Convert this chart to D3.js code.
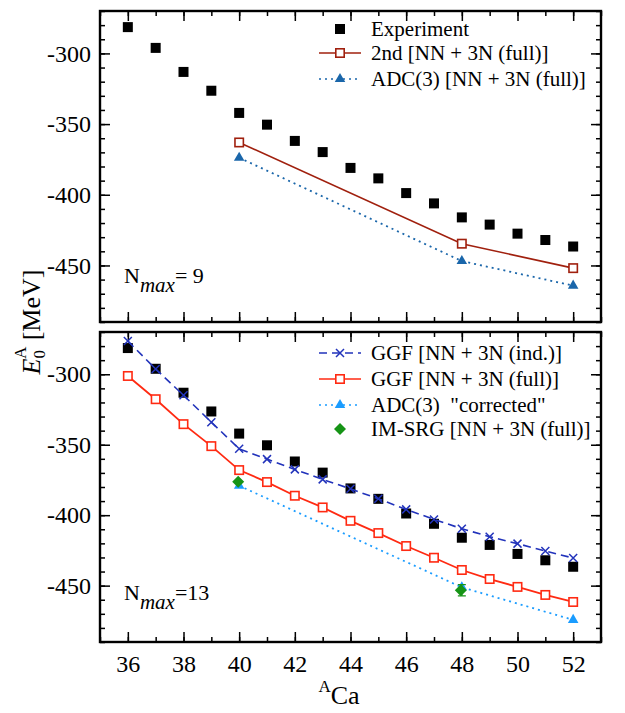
<!DOCTYPE html>
<html>
<head>
<meta charset="utf-8">
<script src="https://cdn.jsdelivr.net/npm/d3@7"></script>
<style>
  body { margin: 0; background: #fff; }
  svg { display: block; }
  svg text { font-family: "Liberation Serif", serif; }
</style>
</head>
<body>
<div id="chart"></div>
<script>
// mass numbers A of the calcium isotopes
var massNumbers = [36, 37, 38, 39, 40, 41, 42, 43, 44, 45, 46, 47, 48, 49, 50, 51, 52];

// experimental ground-state energies (MeV)
var experiment = [-281.4, -296.1, -313.1, -326.4, -342.1, -350.4, -361.9, -369.8, -381.0,
                  -388.4, -398.8, -406.1, -416.0, -421.1, -427.5, -432.0, -436.6];

// top panel, Nmax = 9
var secondA = [40, 48, 52];
var secondOrder = [-363.0, -434.6, -451.9];
var adc3A = [40, 48, 52];
var adc3Full = [-373.8, -446.9, -464.3];

// bottom panel, Nmax = 13
var ggfInduced = [-276.4, -296.3, -314.9, -334.0, -352.9, -360.2, -367.5, -374.6, -381.3,
                  -388.4, -395.9, -403.0, -409.6, -415.3, -420.2, -425.4, -430.4];
var ggfFull = [-301.2, -317.7, -335.4, -351.0, -368.0, -376.5, -386.2, -394.5, -404.0,
               -412.7, -421.9, -430.2, -438.9, -445.3, -450.9, -456.6, -461.6];
var adc3CorrA = [40, 48, 52];
var adc3Corrected = [-379.1, -451.2, -474.3];
var imsrgA = [40, 48];
var imsrg = [-376.3, -453.3];
var imsrgErr = [0, 4];

var xTicks = [36, 38, 40, 42, 44, 46, 48, 50, 52];
var yTicks = [-300, -350, -400, -450];

var W = 625, H = 713;
var left = 100, right = 601;
var panels = [
  { top: 11, bottom: 322, label: "= 9" },
  { top: 332, bottom: 642, label: "=13" }
];

var svg = d3.select("#chart").append("svg")
  .attr("width", W).attr("height", H);

var x = d3.scaleLinear().domain([35, 53]).range([left, right]);

var colors = {
  exp: "#000000",
  second: "#a0200e",
  adcTop: "#1a66aa",
  ggfInd: "#2233bb",
  ggfFull: "#ff2a12",
  adcCorr: "#1a9cff",
  imsrg: "#169416"
};

function zip(xs, ys) {
  return xs.map(function(a, i) { return { a: a, e: ys[i] }; });
}

var minorX = d3.range(35, 54, 1);
var minorY = d3.range(-490, -269, 10);

function drawAxes(g, y, withLabels) {
  var b = y.range()[0], t = y.range()[1];
  // minor ticks
  g.append("g").attr("transform", "translate(0," + b + ")")
    .call(d3.axisBottom(x).tickValues(minorX).tickSize(-5).tickFormat(""));
  g.append("g").attr("transform", "translate(0," + t + ")")
    .call(d3.axisTop(x).tickValues(minorX).tickSize(-5).tickFormat(""));
  g.append("g").attr("transform", "translate(" + left + ",0)")
    .call(d3.axisLeft(y).tickValues(minorY).tickSize(-5).tickFormat(""));
  g.append("g").attr("transform", "translate(" + right + ",0)")
    .call(d3.axisRight(y).tickValues(minorY).tickSize(-5).tickFormat(""));
  // major ticks
  var xb = g.append("g").attr("transform", "translate(0," + b + ")")
    .call(d3.axisBottom(x).tickValues(xTicks).tickSize(-10).tickPadding(13)
      .tickFormat(withLabels ? function(d) { return String(d); } : ""));
  g.append("g").attr("transform", "translate(0," + t + ")")
    .call(d3.axisTop(x).tickValues(xTicks).tickSize(-10).tickFormat(""));
  g.append("g").attr("transform", "translate(" + left + ",0)")
    .call(d3.axisLeft(y).tickValues(yTicks).tickSize(-10).tickPadding(9)
      .tickFormat(function(d) { return String(d); }));
  g.append("g").attr("transform", "translate(" + right + ",0)")
    .call(d3.axisRight(y).tickValues(yTicks).tickSize(-10).tickFormat(""));

  g.selectAll(".domain").remove();
  g.selectAll(".tick line").attr("stroke", "#000").attr("stroke-width", 1.5);
  g.selectAll(".tick text").attr("font-size", 24).attr("fill", "#000");
  xb.selectAll(".tick text").attr("dy", "0.71em");

  g.append("rect")
    .attr("x", left).attr("y", t)
    .attr("width", right - left).attr("height", b - t)
    .attr("fill", "none").attr("stroke", "#000").attr("stroke-width", 2.4);
}

function line(g, y, data, color, dash, width) {
  g.append("path")
    .datum(data)
    .attr("fill", "none")
    .attr("stroke", color)
    .attr("stroke-width", width || 1.6)
    .attr("stroke-dasharray", dash || null)
    .attr("d", d3.line().x(function(d) { return x(d.a); }).y(function(d) { return y(d.e); }));
}

function marker(g, type, cx, cy, color) {
  if (type === "square") {
    g.append("rect").attr("x", cx - 5).attr("y", cy - 5).attr("width", 10).attr("height", 10)
      .attr("fill", color);
  } else if (type === "open") {
    g.append("rect").attr("x", cx - 4.2).attr("y", cy - 4.2).attr("width", 8.4).attr("height", 8.4)
      .attr("fill", "#fff").attr("stroke", color).attr("stroke-width", 1.6);
  } else if (type === "tri") {
    g.append("path").attr("transform", "translate(" + cx + "," + cy + ")")
      .attr("d", d3.symbol(d3.symbolTriangle, 48)()).attr("fill", color);
  } else if (type === "diamond") {
    g.append("path").attr("transform", "translate(" + cx + "," + cy + ")")
      .attr("d", "M0,-6L6,0L0,6L-6,0Z").attr("fill", color);
  } else if (type === "cross") {
    g.append("path").attr("transform", "translate(" + cx + "," + cy + ")")
      .attr("d", "M-4,-4L4,4M-4,4L4,-4").attr("stroke", color).attr("stroke-width", 1.5);
  }
}

function points(g, y, data, type, color) {
  data.forEach(function(d) { marker(g, type, x(d.a), y(d.e), color); });
}

function legendRow(g, ly, type, color, dash, text, noLine) {
  if (!noLine) {
    g.append("line").attr("x1", 319).attr("x2", 361).attr("y1", ly).attr("y2", ly)
      .attr("stroke", color).attr("stroke-width", 1.6).attr("stroke-dasharray", dash || null);
  }
  marker(g, type, 340, ly, color);
  g.append("text").attr("x", 371).attr("y", ly).attr("dy", "0.35em")
    .attr("font-size", 21).attr("fill", "#000").text(text);
}

function nmaxLabel(g, baseY, rest) {
  var t = g.append("text").attr("x", 124).attr("y", baseY).attr("font-size", 22).attr("fill", "#000");
  t.append("tspan").text("N");
  t.append("tspan").attr("font-style", "italic").attr("font-size", 21).attr("dy", 9).text("max");
  t.append("tspan").attr("dy", -9).text(rest);
}

// ---- top panel ----
var yTop = d3.scaleLinear().domain([-490, -270]).range([panels[0].bottom, panels[0].top]);
var gTop = svg.append("g");
drawAxes(gTop, yTop, false);
points(gTop, yTop, zip(massNumbers, experiment), "square", colors.exp);
line(gTop, yTop, zip(secondA, secondOrder), colors.second);
line(gTop, yTop, zip(adc3A, adc3Full), colors.adcTop, "2,4", 1.8);
points(gTop, yTop, zip(secondA, secondOrder), "open", colors.second);
points(gTop, yTop, zip(adc3A, adc3Full), "tri", colors.adcTop);
legendRow(gTop, 29, "square", colors.exp, null, "Experiment", true);
legendRow(gTop, 53, "open", colors.second, null, "2nd [NN + 3N (full)]");
legendRow(gTop, 79, "tri", colors.adcTop, "2,4", "ADC(3) [NN + 3N (full)]");
nmaxLabel(gTop, 283, panels[0].label);

// ---- bottom panel ----
var yBot = d3.scaleLinear().domain([-490, -270]).range([panels[1].bottom, panels[1].top]);
var gBot = svg.append("g");
drawAxes(gBot, yBot, true);
points(gBot, yBot, zip(massNumbers, experiment), "square", colors.exp);
line(gBot, yBot, zip(massNumbers, ggfFull), colors.ggfFull, null, 1.8);
line(gBot, yBot, zip(adc3CorrA, adc3Corrected), colors.adcCorr, "2,4", 1.8);
line(gBot, yBot, zip(massNumbers, ggfInduced), colors.ggfInd, "8,5", 1.6);
points(gBot, yBot, zip(massNumbers, ggfFull), "open", colors.ggfFull);
points(gBot, yBot, zip(adc3CorrA, adc3Corrected), "tri", colors.adcCorr);
points(gBot, yBot, zip(massNumbers, ggfInduced), "cross", colors.ggfInd);
imsrgA.forEach(function(a, i) {
  var cx = x(a);
  if (imsrgErr[i] > 0) {
    var y1 = yBot(imsrg[i] + imsrgErr[i]), y2 = yBot(imsrg[i] - imsrgErr[i]);
    gBot.append("path")
      .attr("d", "M" + cx + "," + y1 + "V" + y2 + "M" + (cx - 4) + "," + y1 + "H" + (cx + 4) +
        "M" + (cx - 4) + "," + y2 + "H" + (cx + 4))
      .attr("stroke", colors.imsrg).attr("stroke-width", 1.3).attr("fill", "none");
  }
  marker(gBot, "diamond", cx - 1, yBot(imsrg[i]), colors.imsrg);
});
legendRow(gBot, 353, "cross", colors.ggfInd, "8,5", "GGF [NN + 3N (ind.)]");
legendRow(gBot, 379, "open", colors.ggfFull, null, "GGF [NN + 3N (full)]");
legendRow(gBot, 405, "tri", colors.adcCorr, "2,4", "ADC(3)\u00a0 \"corrected\"");
legendRow(gBot, 429, "diamond", colors.imsrg, null, "IM-SRG [NN + 3N (full)]", true);
nmaxLabel(gBot, 600, panels[1].label);

// ---- axis titles ----
var xl = svg.append("text").attr("x", 339).attr("y", 704).attr("text-anchor", "middle")
  .attr("font-size", 26).attr("fill", "#000");
xl.append("tspan").attr("font-size", 17).attr("dy", -12).text("A");
xl.append("tspan").attr("dy", 12).text("Ca");

var yl = svg.append("text")
  .attr("transform", "translate(40,322) rotate(-90)")
  .attr("text-anchor", "middle").attr("font-size", 26).attr("fill", "#000");
yl.append("tspan").attr("font-style", "italic").text("E");
yl.append("tspan").attr("font-size", 17).attr("dy", 5).text("0");
yl.append("tspan").attr("font-size", 17).attr("dx", -9).attr("dy", -19).text("A");
yl.append("tspan").attr("dy", 14).text(" [MeV]");
</script>
</body>
</html>
